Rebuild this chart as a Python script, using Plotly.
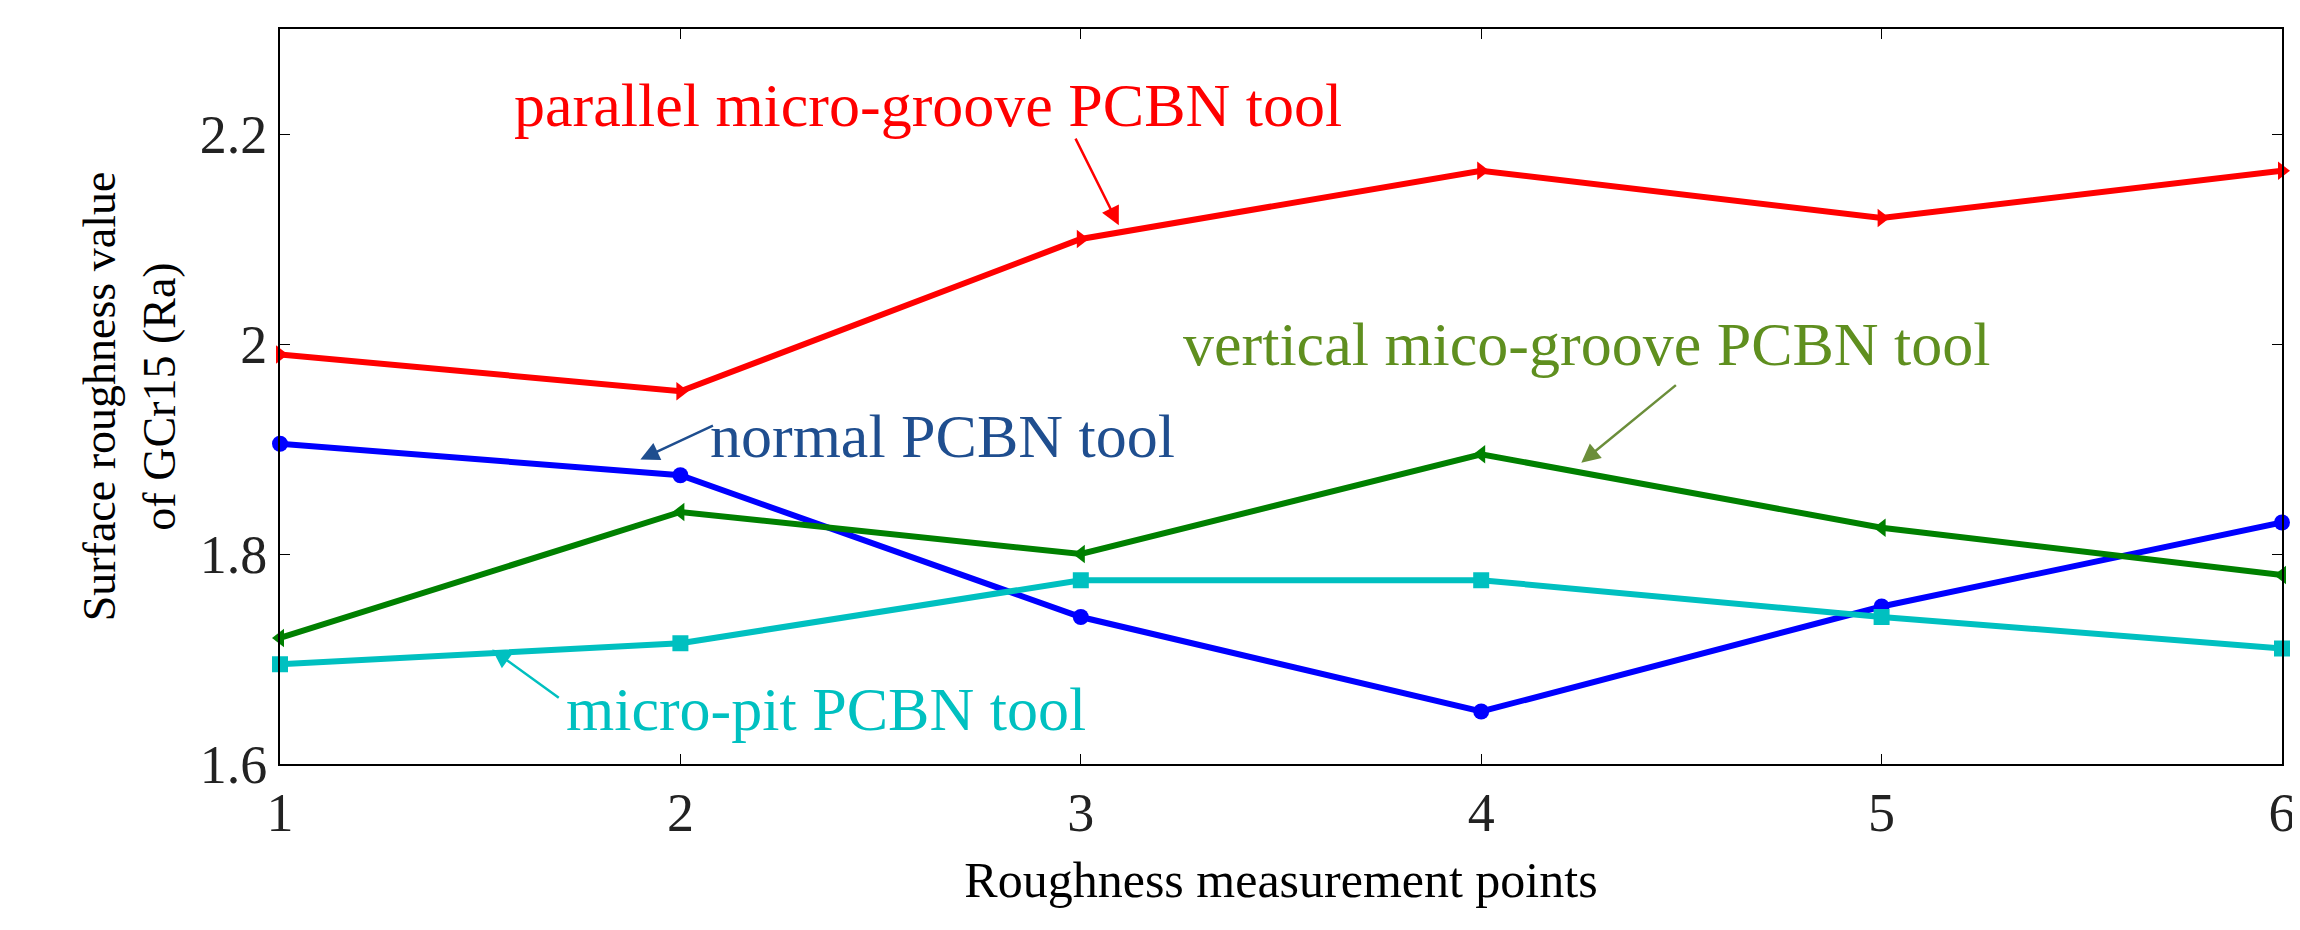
import plotly.graph_objects as go

points = [1, 2, 3, 4, 5, 6]
parallel = [1.99, 1.955, 2.10, 2.165, 2.12, 2.165]
normal = [1.905, 1.875, 1.74, 1.65, 1.75, 1.83]
vertical = [1.72, 1.84, 1.80, 1.895, 1.825, 1.78]
micropit = [1.695, 1.715, 1.775, 1.775, 1.74, 1.71]

F = "Liberation Serif"
fig = go.Figure()
series = [
    (parallel, "#ff0000", "triangle-right"),
    (normal, "#0000ff", "circle"),
    (vertical, "#008000", "triangle-left"),
    (micropit, "#00c0c0", "square"),
]
for ys, c, m in series:
    fig.add_trace(go.Scatter(x=points, y=ys, mode="lines+markers",
                             line=dict(color=c, width=6),
                             marker=dict(symbol=m, size=16, color=c),
                             showlegend=False, cliponaxis=False))

def ann(text, x, y, color, tx, ty, hx, hy, acolor):
    fig.add_annotation(x=x, y=y, text=text, showarrow=False, xanchor="left",
                       font=dict(family=F, size=62, color=color))
    fig.add_annotation(x=hx, y=hy, ax=tx, ay=ty, axref="x", ayref="y",
                       text="", showarrow=True, arrowhead=2, arrowsize=1.5,
                       arrowwidth=2.5, arrowcolor=acolor)

ann("parallel micro-groove PCBN tool", 1.58, 2.228, "#ff0000", 2.985, 2.197, 3.095, 2.113, "#ff0000")
ann("normal PCBN tool", 2.07, 1.912, "#1f4e8f", 2.085, 1.923, 1.9, 1.89, "#1f4e8f")
ann("vertical mico-groove PCBN tool", 3.25, 2.0, "#5f8f1f", 4.49, 1.962, 4.25, 1.887, "#6b8e3a")
ann("micro-pit PCBN tool", 1.71, 1.652, "#00c0c0", 1.70, 1.662, 1.53, 1.709, "#00c0c0")

axis_common = dict(showgrid=False, zeroline=False, showline=True, linecolor="black",
                   linewidth=2, mirror="ticks", ticks="inside", ticklen=10,
                   tickcolor="black", tickfont=dict(family=F, size=54, color="#222"))
fig.update_xaxes(range=[1, 6], tickvals=points, **axis_common,
                 title=dict(text="Roughness measurement points",
                            font=dict(family=F, size=50, color="black"), standoff=20))
fig.update_yaxes(range=[1.6, 2.3], tickvals=[1.6, 1.8, 2.0, 2.2],
                 ticktext=["1.6", "1.8", "2", "2.2"], **axis_common,
                 title=dict(text="Surface roughness value<br>of GCr15 (Ra)",
                            font=dict(family=F, size=46, color="black"), standoff=10))
fig.update_layout(width=2300, height=930, plot_bgcolor="white", paper_bgcolor="white",
                  margin=dict(l=272, r=26, t=21, b=174))
fig.write_html("out.html")
